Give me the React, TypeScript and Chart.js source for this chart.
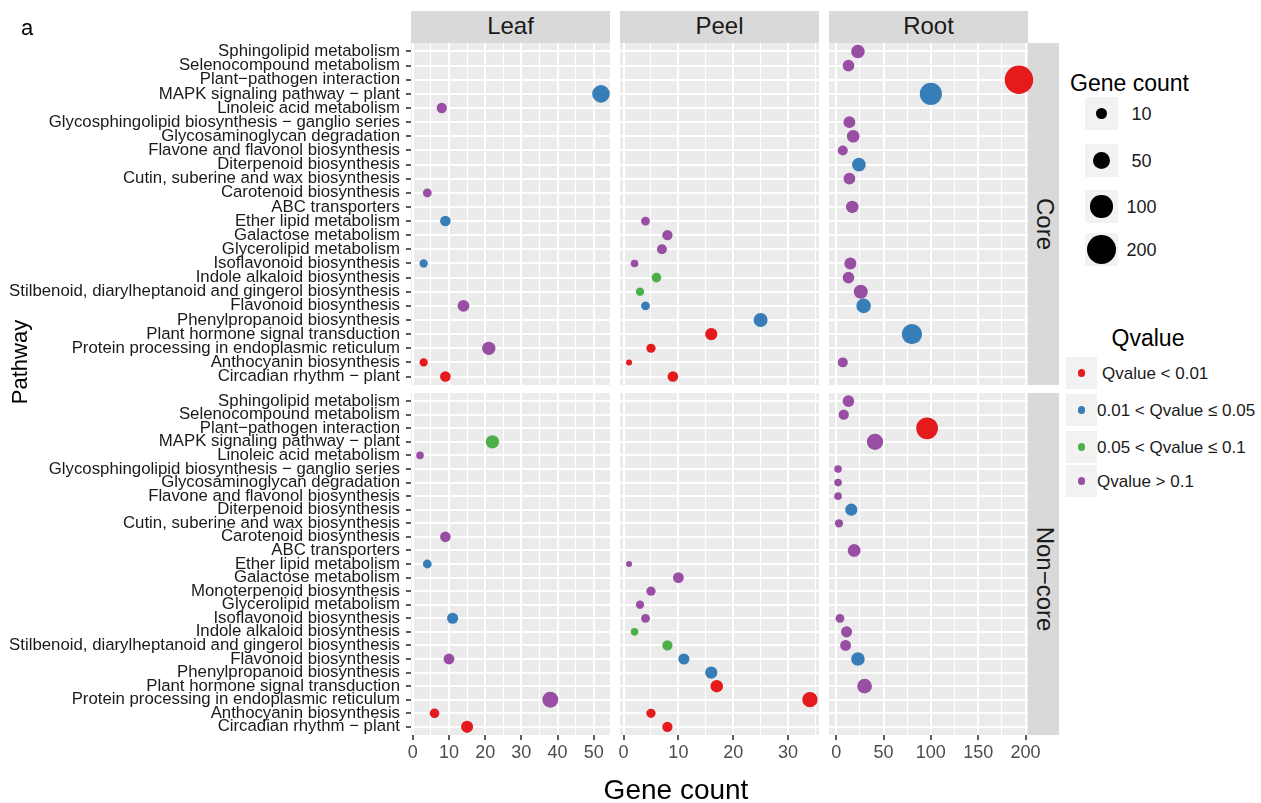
import React, { useEffect, useRef } from 'react';
import { Chart, registerables } from 'chart.js';

Chart.register(...registerables);

const FONT = '"Liberation Sans", Arial, Helvetica, sans-serif';

const tissues = ['Leaf', 'Peel', 'Root'];
const groups = ['Core', 'Non\u2212core'];

const coreCategories = [
  'Sphingolipid metabolism',
  'Selenocompound metabolism',
  'Plant\u2212pathogen interaction',
  'MAPK signaling pathway \u2212 plant',
  'Linoleic acid metabolism',
  'Glycosphingolipid biosynthesis \u2212 ganglio series',
  'Glycosaminoglycan degradation',
  'Flavone and flavonol biosynthesis',
  'Diterpenoid biosynthesis',
  'Cutin, suberine and wax biosynthesis',
  'Carotenoid biosynthesis',
  'ABC transporters',
  'Ether lipid metabolism',
  'Galactose metabolism',
  'Glycerolipid metabolism',
  'Isoflavonoid biosynthesis',
  'Indole alkaloid biosynthesis',
  'Stilbenoid, diarylheptanoid and gingerol biosynthesis',
  'Flavonoid biosynthesis',
  'Phenylpropanoid biosynthesis',
  'Plant hormone signal transduction',
  'Protein processing in endoplasmic reticulum',
  'Anthocyanin biosynthesis',
  'Circadian rhythm \u2212 plant',
];

const noncoreCategories = [
  'Sphingolipid metabolism',
  'Selenocompound metabolism',
  'Plant\u2212pathogen interaction',
  'MAPK signaling pathway \u2212 plant',
  'Linoleic acid metabolism',
  'Glycosphingolipid biosynthesis \u2212 ganglio series',
  'Glycosaminoglycan degradation',
  'Flavone and flavonol biosynthesis',
  'Diterpenoid biosynthesis',
  'Cutin, suberine and wax biosynthesis',
  'Carotenoid biosynthesis',
  'ABC transporters',
  'Ether lipid metabolism',
  'Galactose metabolism',
  'Monoterpenoid biosynthesis',
  'Glycerolipid metabolism',
  'Isoflavonoid biosynthesis',
  'Indole alkaloid biosynthesis',
  'Stilbenoid, diarylheptanoid and gingerol biosynthesis',
  'Flavonoid biosynthesis',
  'Phenylpropanoid biosynthesis',
  'Plant hormone signal transduction',
  'Protein processing in endoplasmic reticulum',
  'Anthocyanin biosynthesis',
  'Circadian rhythm \u2212 plant',
];

// Gene counts aligned with the category lists (null = no point)
const leafCore = [null, null, null, 52, 8, null, null, null, null, null, 4, null, 9, null, null, 3, null, null, 14, null, null, 21, 3, 9];
const peelCore = [null, null, null, null, null, null, null, null, null, null, null, null, 4, 8, 7, 2, 6, 3, 4, 25, 16, 5, 1, 9];
const rootCore = [23, 13, 193, 100, null, 14, 18, 7, 24, 14, null, 17, null, null, null, 15, 13, 26, 29, null, 80, null, 7, null];

const leafNoncore = [null, null, null, 22, 2, null, null, null, null, null, 9, null, 4, null, null, null, 11, null, null, 10, null, null, 38, 6, 15];
const peelNoncore = [null, null, null, null, null, null, null, null, null, null, null, null, 1, 10, 5, 3, 4, 2, 8, 11, 16, 17, 34, 5, 8];
const rootNoncore = [13, 8, 96, 41, null, 2, 2, 2, 16, 3, null, 19, null, null, null, null, 4, 11, 10, 23, null, 30, null, null, null];

// Q-value class: 0 = <0.01, 1 = 0.01-0.05, 2 = 0.05-0.1, 3 = >0.1
const leafCoreQ = [null, null, null, 1, 3, null, null, null, null, null, 3, null, 1, null, null, 1, null, null, 3, null, null, 3, 0, 0];
const peelCoreQ = [null, null, null, null, null, null, null, null, null, null, null, null, 3, 3, 3, 3, 2, 2, 1, 1, 0, 0, 0, 0];
const rootCoreQ = [3, 3, 0, 1, null, 3, 3, 3, 1, 3, null, 3, null, null, null, 3, 3, 3, 1, null, 1, null, 3, null];

const leafNoncoreQ = [null, null, null, 2, 3, null, null, null, null, null, 3, null, 1, null, null, null, 1, null, null, 3, null, null, 3, 0, 0];
const peelNoncoreQ = [null, null, null, null, null, null, null, null, null, null, null, null, 3, 3, 3, 3, 3, 2, 2, 1, 1, 0, 0, 0, 0];
const rootNoncoreQ = [3, 3, 0, 3, null, 3, 3, 3, 1, 3, null, 3, null, null, null, null, 3, 3, 3, 1, null, 3, null, null, null];

const qLabels = ['Qvalue < 0.01', '0.01 < Qvalue \u2264 0.05', '0.05 < Qvalue \u2264 0.1', 'Qvalue > 0.1'];
const qColors = ['#E41A1C', '#377EB8', '#4DAF4A', '#984EA3'];
const sizeBreaks = [10, 50, 100, 200];

const leafTicks = [0, 10, 20, 30, 40, 50];
const peelTicks = [0, 10, 20, 30];
const rootTicks = [0, 50, 100, 150, 200];
const leafLimits = [-0.5, 54.5];
const peelLimits = [-0.65, 35.65];
const rootLimits = [-7.55, 202.55];

// layout
const PANEL_X = [411, 620, 829];
const PANEL_W = 199;
const PANEL_Y = [43, 393];
const PANEL_H = 342;
const M = 20;
const X_AXIS_H = 34;

function radiusFor(v: number) {
  return 3 + 11.3 * Math.sqrt(Math.max(v - 1, 0) / 195);
}

function minorTicks(majors: number[], limits: number[]) {
  const step = majors[1] - majors[0];
  const res: number[] = [];
  for (let v = majors[0] - step / 2; v <= limits[1]; v += step) {
    if (v >= limits[0]) res.push(v);
  }
  return res;
}

const panelBg = {
  id: 'panelBg',
  beforeDraw(chart: any) {
    const { ctx, chartArea: a } = chart;
    ctx.save();
    ctx.fillStyle = '#EBEBEB';
    ctx.fillRect(a.left, a.top, a.right - a.left, a.bottom - a.top);
    ctx.restore();
  },
};

type PanelProps = {
  row: number;
  col: number;
  counts: (number | null)[];
  qs: (number | null)[];
  categories: string[];
  majors: number[];
  limits: number[];
};

function Panel({ row, col, counts, qs, categories, majors, limits }: PanelProps) {
  const ref = useRef<HTMLCanvasElement>(null);
  const showY = col === 0;
  const showX = row === 1;
  const yAxisW = showY ? PANEL_X[0] : 0;
  const xAxisH = showX ? X_AXIS_H : 0;
  const left = showY ? 0 : PANEL_X[col] - M;
  const padL = showY ? 0 : M;
  const width = PANEL_X[col] + PANEL_W + M - left;
  const top = PANEL_Y[row] - M;
  const height = M + PANEL_H + xAxisH + M;

  useEffect(() => {
    if (!ref.current) return;
    const minors = minorTicks(majors, limits);
    const allTicks = [...majors, ...minors].sort((a, b) => a - b);
    const isMajor = (v: number) => majors.includes(v);
    const points: any[] = [];
    counts.forEach((v, i) => {
      if (v != null) points.push({ x: v, y: i, q: qs[i] });
    });
    const chart = new Chart(ref.current, {
      type: 'scatter',
      data: {
        datasets: [
          {
            data: points,
            pointRadius: (c: any) => (c.raw ? radiusFor(c.raw.x) : 3),
            pointHoverRadius: (c: any) => (c.raw ? radiusFor(c.raw.x) : 3),
            backgroundColor: (c: any) => (c.raw ? qColors[c.raw.q] : '#000'),
            borderWidth: 0,
            clip: false,
          } as any,
        ],
      },
      options: {
        animation: false,
        responsive: false,
        events: [],
        layout: { padding: { left: padL, right: M, top: M, bottom: M } },
        plugins: { legend: { display: false }, tooltip: { enabled: false } },
        scales: {
          x: {
            type: 'linear',
            min: limits[0],
            max: limits[1],
            afterBuildTicks: (s: any) => {
              s.ticks = allTicks.map((v) => ({ value: v }));
            },
            afterFit: (s: any) => {
              s.height = xAxisH;
              s.paddingLeft = 0;
              s.paddingRight = 0;
            },
            ticks: {
              display: showX,
              autoSkip: false,
              maxRotation: 0,
              minRotation: 0,
              padding: 2,
              color: '#4D4D4D',
              font: { family: FONT, size: 18 },
              callback: (v: any) => (isMajor(v) ? String(v) : ''),
            },
            grid: {
              color: '#FFFFFF',
              lineWidth: (c: any) => (c.tick && isMajor(c.tick.value) ? 2 : 1),
              drawTicks: showX,
              tickLength: 5,
              tickWidth: 1.6,
              tickColor: (c: any) => (c.tick && isMajor(c.tick.value) ? '#333333' : 'rgba(0,0,0,0)'),
            },
            border: { display: false },
          },
          y: {
            type: 'linear',
            reverse: true,
            min: -0.6,
            max: categories.length - 0.4,
            afterBuildTicks: (s: any) => {
              s.ticks = categories.map((_, i) => ({ value: i }));
            },
            afterFit: (s: any) => {
              s.width = yAxisW;
              s.paddingTop = 0;
              s.paddingBottom = 0;
            },
            ticks: {
              display: showY,
              autoSkip: false,
              padding: 6,
              color: '#1A1A1A',
              font: { family: FONT, size: 16.8 },
              callback: (v: any) => categories[v],
            },
            grid: {
              color: '#FFFFFF',
              lineWidth: 2,
              drawTicks: showY,
              tickLength: 5,
              tickWidth: 1.6,
              tickColor: '#333333',
            },
            border: { display: false },
          },
        },
      } as any,
      plugins: [panelBg],
    });
    return () => chart.destroy();
  }, []);

  return (
    <canvas
      ref={ref}
      width={width}
      height={height}
      style={{ position: 'absolute', left, top, width, height }}
    />
  );
}

type LabelProps = {
  x: number;
  y: number;
  text: string;
  size: number;
  color?: string;
  anchor?: 'left' | 'center';
  rotate?: number;
};

function Label({ x, y, text, size, color = '#000000', anchor = 'center', rotate = 0 }: LabelProps) {
  const tx = anchor === 'center' ? '-50%' : '0';
  return (
    <div
      style={{
        position: 'absolute',
        left: x,
        top: y,
        transform: `translate(${tx}, -50%) rotate(${rotate}deg)`,
        fontFamily: FONT,
        fontSize: size,
        color,
        lineHeight: 1,
        whiteSpace: 'nowrap',
      }}
    >
      {text}
    </div>
  );
}

const panelCounts = [
  [leafCore, peelCore, rootCore],
  [leafNoncore, peelNoncore, rootNoncore],
];
const panelQs = [
  [leafCoreQ, peelCoreQ, rootCoreQ],
  [leafNoncoreQ, peelNoncoreQ, rootNoncoreQ],
];
const rowCategories = [coreCategories, noncoreCategories];
const colTicks = [leafTicks, peelTicks, rootTicks];
const colLimits = [leafLimits, peelLimits, rootLimits];

const sizeKeyTops = [97, 144, 190, 233];
const qKeyTops = [357, 394, 431, 465];
const qLabelX = [1102, 1097, 1097, 1097];
const groupLabelY = [224, 579];

export default function App() {
  return (
    <div
      style={{
        position: 'absolute',
        left: 0,
        top: 0,
        width: 1261,
        height: 803,
        background: '#FFFFFF',
        overflow: 'hidden',
        fontFamily: FONT,
      }}
    >
      {/* top strips */}
      {tissues.map((t, c) => (
        <div
          key={'ts' + t}
          style={{ position: 'absolute', left: PANEL_X[c], top: 11, width: PANEL_W, height: 31.5, background: '#D9D9D9' }}
        />
      ))}
      {tissues.map((t, c) => (
        <Label key={'tl' + t} x={PANEL_X[c] + PANEL_W / 2} y={26} text={t} size={24} color="#1A1A1A" />
      ))}
      {/* right strips */}
      {groups.map((g, r) => (
        <div
          key={'rs' + g}
          style={{ position: 'absolute', left: 1028, top: PANEL_Y[r], width: 31, height: PANEL_H, background: '#D9D9D9' }}
        />
      ))}
      {groups.map((g, r) => (
        <Label key={'rl' + g} x={1045} y={groupLabelY[r]} text={g} size={24} color="#1A1A1A" rotate={90} />
      ))}

      {/* panels */}
      {[0, 1].map((r) =>
        [0, 1, 2].map((c) => (
          <Panel
            key={'p' + r + c}
            row={r}
            col={c}
            counts={panelCounts[r][c]}
            qs={panelQs[r][c]}
            categories={rowCategories[r]}
            majors={colTicks[c]}
            limits={colLimits[c]}
          />
        ))
      )}

      {/* titles */}
      <Label x={21} y={28} text="a" size={22} anchor="left" />
      <Label x={676} y={790} text="Gene count" size={28} />
      <Label x={20} y={362} text="Pathway" size={22} rotate={-90} />

      {/* size legend */}
      <Label x={1070} y={83} text="Gene count" size={23} anchor="left" />
      {sizeBreaks.map((b, i) => (
        <div
          key={'sk' + b}
          style={{ position: 'absolute', left: 1085, top: sizeKeyTops[i], width: 33, height: 33, background: '#F2F2F2' }}
        />
      ))}
      {sizeBreaks.map((b, i) => {
        const r = radiusFor(b);
        return (
          <div
            key={'sd' + b}
            style={{
              position: 'absolute',
              left: 1101.5 - r,
              top: sizeKeyTops[i] + 16.5 - r,
              width: 2 * r,
              height: 2 * r,
              borderRadius: '50%',
              background: '#000000',
            }}
          />
        );
      })}
      {sizeBreaks.map((b, i) => (
        <Label key={'sl' + b} x={1141.5} y={sizeKeyTops[i] + 17} text={String(b)} size={18} color="#1A1A1A" />
      ))}

      {/* qvalue legend */}
      <Label x={1148} y={338} text="Qvalue" size={23} />
      {qLabels.map((q, i) => (
        <div
          key={'qk' + i}
          style={{ position: 'absolute', left: 1066, top: qKeyTops[i], width: 31, height: 32, background: '#F2F2F2' }}
        />
      ))}
      {qLabels.map((q, i) => (
        <div
          key={'qd' + i}
          style={{
            position: 'absolute',
            left: 1081.5 - 3.8,
            top: qKeyTops[i] + 16 - 3.8,
            width: 7.6,
            height: 7.6,
            borderRadius: '50%',
            background: qColors[i],
          }}
        />
      ))}
      {qLabels.map((q, i) => (
        <Label key={'ql' + i} x={qLabelX[i]} y={qKeyTops[i] + 16} text={q} size={17} color="#1A1A1A" anchor="left" />
      ))}
    </div>
  );
}
